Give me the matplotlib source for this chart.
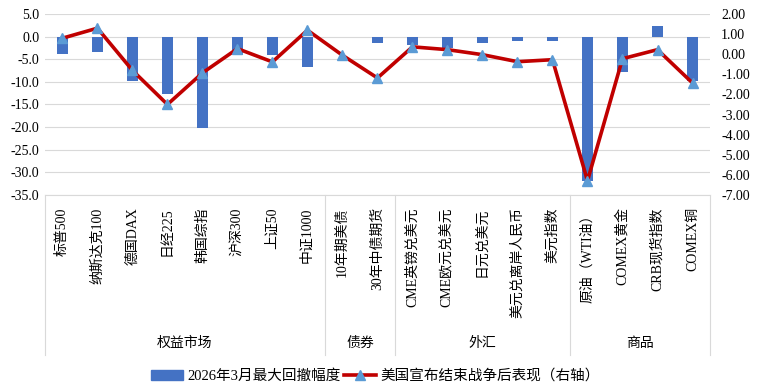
import matplotlib
matplotlib.use('Agg')
import matplotlib.pyplot as plt
import matplotlib.transforms as mtransforms
from matplotlib.patches import Patch
from matplotlib.lines import Line2D
import numpy as np

plt.rcParams['font.family'] = ['Liberation Serif', 'Noto Sans CJK SC']
plt.rcParams['axes.unicode_minus'] = False

# ===== dados =====
categorias = ['标普500', '纳斯达克100', '德国DAX', '日经225', '韩国综指', '沪深300', '上证50', '中证1000',
              '10年期美债', '30年中债期货',
              'CME英镑兑美元', 'CME欧元兑美元', '日元兑美元', '美元兑离岸人民币', '美元指数',
              '原油（WTI油）', 'COMEX黄金', 'CRB现货指数', 'COMEX铜']
max_drawdown = [-3.8, -3.3, -9.8, -12.7, -20.2, -4.0, -4.0, -6.7,
                0.0, -1.3,
                -1.8, -2.4, -1.5, -1.0, -1.0,
                -32.0, -7.8, 2.3, -9.7]
pos_fim_guerra = [0.8, 1.3, -0.8, -2.5, -0.93, 0.28, -0.38, 1.2,
                  -0.05, -1.18,
                  0.37, 0.23, -0.02, -0.37, -0.27,
                  -6.3, -0.22, 0.23, -1.43]
grupos = ['权益市场', '债券', '外汇', '商品']
grupo_tamanho = [8, 2, 5, 4]

label_bar = '2026年3月最大回撤幅度'
label_line = '美国宣布结束战争后表现（右轴）'

# ===== figura =====
fig = plt.figure(figsize=(7.61, 3.92), dpi=100)
ax = fig.add_axes([0.059, 0.503, 0.874, 0.461])
ax2 = ax.twinx()

x = np.arange(len(categorias))
ax.bar(x, max_drawdown, width=0.32, color='#4472C4', zorder=2)
ax2.plot(x, pos_fim_guerra, color='#C00000', linewidth=2.6, marker='^',
         markersize=7, markerfacecolor='#5B9BD5', markeredgecolor='#5B9BD5', zorder=3)

ax.set_xlim(-0.5, len(categorias) - 0.5)
ax.set_ylim(-35, 5)
ax.set_yticks(np.arange(-35, 5.1, 5))
ax.set_yticklabels([f'{v:.1f}' for v in np.arange(-35, 5.1, 5)], fontsize=10)
ax2.set_ylim(-7, 2)
ax2.set_yticks(np.arange(-7, 2.1, 1))
ax2.set_yticklabels([f'{v:.2f}' for v in np.arange(-7, 2.1, 1)], fontsize=10)

ax.grid(axis='y', color='#D9D9D9', linewidth=0.8, zorder=0)
for a in (ax, ax2):
    for s in a.spines.values():
        s.set_visible(False)
    a.tick_params(length=0)
ax.spines['bottom'].set_visible(True)
ax.spines['bottom'].set_color('#D9D9D9')
ax.tick_params(axis='y', pad=4)
ax2.tick_params(axis='y', pad=8)

ax.set_xticks(x)
ax.set_xticklabels(categorias, rotation=90, fontsize=10, va='top', ha='center')
ax.tick_params(axis='x', pad=9)

# separadores e rótulos de grupo
trans = mtransforms.blended_transform_factory(ax.transData, ax.transAxes)
bordas = np.concatenate([[0], np.cumsum(grupo_tamanho)]) - 0.5
for b in bordas:
    ax.add_line(Line2D([b, b], [0, -0.884], transform=trans, color='#D9D9D9',
                       linewidth=0.8, clip_on=False))
for i, g in enumerate(grupos):
    xc = (bordas[i] + bordas[i + 1]) / 2
    ax.text(xc, -0.82, g, transform=trans, ha='center', va='center', fontsize=10)

handles = [Patch(color='#4472C4'),
           Line2D([], [], color='#C00000', linewidth=2.6, marker='^', markersize=7,
                  markerfacecolor='#5B9BD5', markeredgecolor='#5B9BD5')]
fig.legend(handles, [label_bar, label_line], loc='center', bbox_to_anchor=(0.493, 0.041),
           ncol=2, frameon=False, fontsize=10.5, handlelength=2.2, columnspacing=0.2,
           handletextpad=0.3)

plt.savefig('out.png', dpi=100)
